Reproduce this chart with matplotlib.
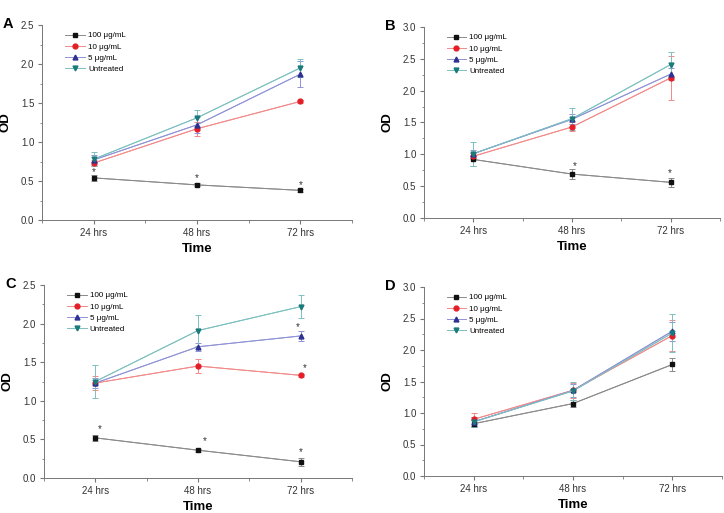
import matplotlib
matplotlib.use('Agg')
import matplotlib.pyplot as plt
from matplotlib.ticker import MultipleLocator

plt.rcParams['font.family'] = ['Liberation Sans', 'DejaVu Sans']

times = ['24 hrs', '48 hrs', '72 hrs']
series = ['100 \u03bcg/mL', '10 \u03bcg/mL', '5 \u03bcg/mL', 'Untreated']

# panel A
a_100 = [0.54, 0.45, 0.38]
a_100_err = [0.04, 0.02, 0.02]
a_10 = [0.73, 1.17, 1.52]
a_10_err = [0.04, 0.09, 0.02]
a_5 = [0.77, 1.22, 1.87]
a_5_err = [0.06, 0.10, 0.17]
a_un = [0.78, 1.31, 1.95]
a_un_err = [0.09, 0.10, 0.12]

# panel B
b_100 = [0.92, 0.69, 0.56]
b_100_err = [0.10, 0.08, 0.07]
b_10 = [0.97, 1.43, 2.20]
b_10_err = [0.05, 0.07, 0.34]
b_5 = [1.01, 1.55, 2.26]
b_5_err = [0.06, 0.08, 0.10]
b_un = [1.01, 1.56, 2.41]
b_un_err = [0.19, 0.17, 0.20]

# panel C
c_100 = [0.52, 0.36, 0.21]
c_100_err = [0.04, 0.02, 0.05]
c_10 = [1.23, 1.45, 1.33]
c_10_err = [0.09, 0.09, 0.02]
c_5 = [1.23, 1.70, 1.84]
c_5_err = [0.07, 0.05, 0.07]
c_un = [1.25, 1.91, 2.22]
c_un_err = [0.22, 0.20, 0.15]

# panel D
d_100 = [0.83, 1.15, 1.77]
d_100_err = [0.06, 0.05, 0.11]
d_10 = [0.90, 1.36, 2.23]
d_10_err = [0.10, 0.12, 0.24]
d_5 = [0.86, 1.36, 2.30]
d_5_err = [0.07, 0.10, 0.15]
d_un = [0.86, 1.35, 2.27]
d_un_err = [0.08, 0.14, 0.30]

# asterisks: (time index, y, x offset)
a_stars = [(0, 0.61, 0), (1, 0.54, 0), (2, 0.45, 0)]
b_stars = [(1, 0.82, 0.03), (2, 0.70, -0.01)]
c_stars = [(0, 0.63, 0.04), (1, 0.48, 0.07), (2, 0.34, 0.0), (2, 1.96, -0.03), (2, 1.42, 0.04)]
d_stars = []

marker_cols = ['#111111', '#e41e26', '#2e3192', '#1b7a7a']
line_cols = ['#8a8a8a', '#f28a8a', '#8f93d6', '#7cc0c0']
markers = ['s', 'o', '^', 'v']

fig = plt.figure(figsize=(7.24, 5.13), dpi=100)
W, H = 724.0, 513.0

# panel: letter, (left, top, right, bottom) in pixels, ymax, values, errors, stars
panels = [
    ('A', (42, 25, 352, 220), 2.5, [a_100, a_10, a_5, a_un], [a_100_err, a_10_err, a_5_err, a_un_err], a_stars),
    ('B', (424, 27, 720, 218), 3.0, [b_100, b_10, b_5, b_un], [b_100_err, b_10_err, b_5_err, b_un_err], b_stars),
    ('C', (44, 285, 352, 478), 2.5, [c_100, c_10, c_5, c_un], [c_100_err, c_10_err, c_5_err, c_un_err], c_stars),
    ('D', (424, 287, 722, 476), 3.0, [d_100, d_10, d_5, d_un], [d_100_err, d_10_err, d_5_err, d_un_err], d_stars),
]

x = [1, 2, 3]
for letter, (l, t, r, b), ymax, vals, errs, stars in panels:
    ax = fig.add_axes([l / W, 1 - b / H, (r - l) / W, (b - t) / H])
    for i in range(4):
        ax.errorbar(x, vals[i], yerr=errs[i], color=line_cols[i], lw=0.7,
                    elinewidth=0.7, capsize=2.2, capthick=0.7, zorder=2)
        ax.plot(x, vals[i], color=line_cols[i], lw=0.7, marker=markers[i], ms=3.5,
                mfc=marker_cols[i], mec=marker_cols[i], label=series[i], zorder=3)
    for ti, yy, dx in stars:
        ax.text(x[ti] + dx, yy, '*', ha='center', va='center', fontsize=7, color='#333333')
    ax.set_xlim(0.5, 3.5)
    ax.set_ylim(0, ymax)
    ax.set_xticks(x)
    ax.set_xticklabels(times)
    ax.xaxis.set_minor_locator(MultipleLocator(0.5))
    ax.yaxis.set_major_locator(MultipleLocator(0.5))
    ax.yaxis.set_minor_locator(MultipleLocator(0.25))
    for s in ['top', 'right']:
        ax.spines[s].set_visible(False)
    for s in ['left', 'bottom']:
        ax.spines[s].set_color('#777777')
        ax.spines[s].set_linewidth(0.7)
    ax.tick_params(which='both', direction='out', color='#777777', labelcolor='#333333', labelsize=7)
    ax.tick_params(which='major', length=3, pad=2.5)
    ax.tick_params(which='minor', length=1.8)
    ax.set_xlabel('Time', fontsize=9.5, fontweight='bold', labelpad=4)
    ax.set_ylabel('OD', fontsize=9.5, fontweight='bold', labelpad=7)
    fig.text((l - 39) / W, 1 - (t - 1) / H, letter, fontsize=10.5, fontweight='bold',
             va='center', ha='left')
    ax.legend(loc='upper left', bbox_to_anchor=(0.06, 0.99), frameon=False, fontsize=5.8,
              handlelength=2.4, handletextpad=0.4, labelspacing=0.45, borderaxespad=0.2)

fig.savefig('out.png', dpi=100)
